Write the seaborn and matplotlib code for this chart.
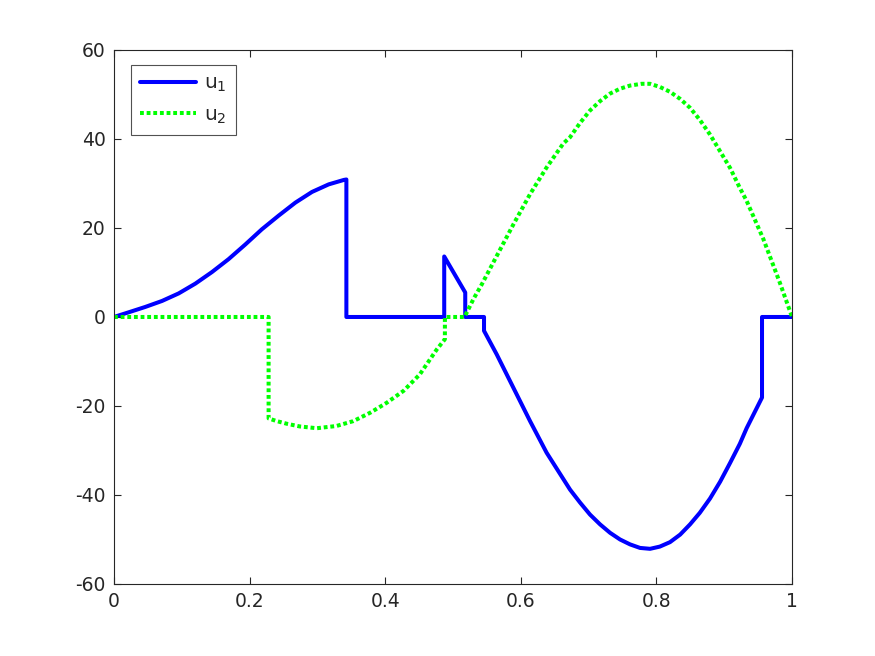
import matplotlib
matplotlib.use('Agg')
import matplotlib.pyplot as plt
import seaborn as sns
import pandas as pd

# values
x1 = [0, 0.0216, 0.046, 0.0708, 0.0954, 0.12, 0.1445, 0.169, 0.1937, 0.218, 0.243, 0.2675,
      0.292, 0.3166, 0.339, 0.3427, 0.3427,
      0.487, 0.487, 0.518, 0.518, 0.5457, 0.5457, 0.5644, 0.589, 0.6136, 0.638,
      0.6726, 0.6873, 0.702, 0.7168, 0.7316, 0.7463, 0.761, 0.7758, 0.7906, 0.805, 0.82,
      0.835, 0.8496, 0.864, 0.879, 0.894, 0.9086, 0.923, 0.933, 0.9557, 0.9557, 1.0]
u1 = [0, 1.05, 2.25, 3.6, 5.3, 7.5, 10.1, 13.0, 16.3, 19.7, 22.8, 25.7,
      28.1, 29.8, 30.8, 30.9, 0,
      0, 13.6, 5.5, 0, 0, -3.1, -8.4, -15.9, -23.4, -30.5,
      -38.8, -41.7, -44.4, -46.6, -48.5, -50.0, -51.1, -51.9, -52.1, -51.6, -50.6,
      -48.9, -46.6, -44.0, -40.8, -37.0, -32.8, -28.5, -25.0, -18.1, 0, 0]

x2 = [0, 0.228, 0.228, 0.24, 0.255, 0.274, 0.299, 0.328, 0.353, 0.378, 0.402, 0.427, 0.451,
      0.476, 0.488, 0.488,
      0.517, 0.53, 0.5423, 0.5644, 0.589, 0.6136, 0.638, 0.6627, 0.6726, 0.6873, 0.702,
      0.7168, 0.7316, 0.7463, 0.761, 0.778, 0.7906, 0.805, 0.82, 0.835, 0.8496, 0.864,
      0.879, 0.894, 0.9086, 0.923, 0.933, 0.9577, 0.982, 1.0]
u2 = [0, 0, -22.8, -23.4, -24.0, -24.6, -25.0, -24.5, -23.4, -21.5, -19.3, -16.6, -12.9,
      -7.3, -5.0, 0,
      0, 4.0, 7.3, 13.7, 20.8, 27.6, 33.6, 39.0, 40.4, 43.6, 46.4,
      48.5, 50.2, 51.3, 52.0, 52.4, 52.4, 51.7, 50.6, 49.0, 47.0, 44.3,
      41.0, 37.2, 33.5, 29.0, 26.1, 17.5, 7.7, 0]

xticks = [0, 0.2, 0.4, 0.6, 0.8, 1]
xticklabels = ['0', '0.2', '0.4', '0.6', '0.8', '1']
yticks = [-60, -40, -20, 0, 20, 40, 60]

df1 = pd.DataFrame({'x': x1, 'u': u1})
df2 = pd.DataFrame({'x': x2, 'u': u2})

sns.set_style('white')
plt.rcParams['font.family'] = ['DejaVu Sans']
plt.rcParams['mathtext.default'] = 'regular'
plt.rcParams['axes.unicode_minus'] = False

dark = (0.15, 0.15, 0.15)
fig = plt.figure(figsize=(8.75, 6.56), dpi=100)
ax = fig.add_axes([0.1303, 0.1098, 0.7749, 0.814])

sns.lineplot(data=df1, x='x', y='u', sort=False, estimator=None, color=(0, 0, 1),
             lw=2.9, ax=ax, label='u$_1$')
sns.lineplot(data=df2, x='x', y='u', sort=False, estimator=None, color=(0, 1, 0),
             lw=2.9, ax=ax, label='u$_2$')
ax.lines[0].set_solid_joinstyle('round')
ax.lines[1].set_dashes((0.95, 0.7))
ax.lines[1].set_dash_capstyle('butt')

ax.set_xlim(0, 1)
ax.set_ylim(-60, 60)
ax.set_xticks(xticks)
ax.set_xticklabels(xticklabels)
ax.set_yticks(yticks)
ax.set_xlabel('')
ax.set_ylabel('')
for s in ax.spines.values():
    s.set_visible(True)
    s.set_color(dark)
    s.set_linewidth(0.8)
ax.tick_params(direction='in', length=5, width=0.8, color=dark, labelcolor=dark,
               labelsize=13.5, top=True, right=True, bottom=True, left=True, pad=6)

leg = ax.legend(loc='upper left', bbox_to_anchor=(0.025, 0.972), fontsize=14.5,
                frameon=True, fancybox=False, handlelength=2.8, borderpad=0.45,
                labelspacing=0.55, handletextpad=0.4, borderaxespad=0)
leg.get_frame().set_edgecolor(dark)
leg.get_frame().set_linewidth(0.8)
for t in leg.get_texts():
    t.set_color(dark)
for h in leg.get_lines():
    h.set_linewidth(2.9)
leg.get_lines()[1].set_dashes((0.95, 0.7))

fig.savefig('out.png', dpi=100, facecolor='white')
